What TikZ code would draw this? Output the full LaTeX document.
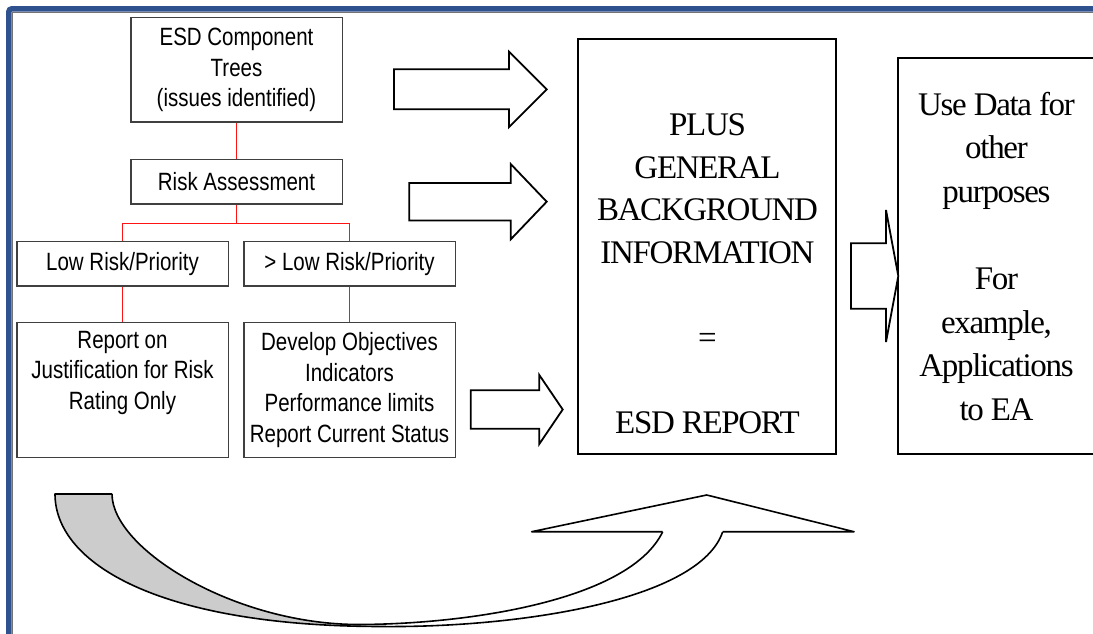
\documentclass[tikz,border=0pt]{standalone}
\usepackage{fontspec}
\setmainfont{Liberation Serif}
\newfontfamily\arialf[FakeStretch=0.82]{Liberation Sans}
\newfontfamily\timesn[LetterSpace=-4]{Liberation Serif}
\definecolor{frameblue}{RGB}{47,82,143}
\definecolor{linkred}{RGB}{255,20,20}
\definecolor{bandgray}{RGB}{204,204,204}

\begin{document}
\begin{tikzpicture}[x=1pt,y=-1pt,
  box/.style={draw=black!75, line width=1.3pt, fill=white, inner sep=0pt,
              font=\arialf\fontsize{25}{30.5}\selectfont, align=center},
  bigbox/.style={draw=black, line width=1.8pt, inner sep=0pt},
  serif/.style={font=\timesn\fontsize{33}{#1}\selectfont, align=center, inner sep=0pt},
  serif/.default=42.5,
  link/.style={draw=linkred, line width=1.1pt},
  blockarrow/.style={draw=black, line width=1.8pt, fill=white, line join=miter},
  bent/.style={draw=black, line width=1.6pt, line join=round},
]
\useasboundingbox (0,0) rectangle (1093,634);
\clip (0,0) rectangle (1093,634);

% outer frame
\draw[frameblue, line width=5.5pt, rounded corners=3pt] (8.8,650) -- (8.8,8.8) -- (1110,8.8);
\draw[black!55, line width=1.2pt] (12.4,650) -- (12.4,12.4) -- (1110,12.4);

% left-hand tree of boxes
\node[box, minimum width=211.3, minimum height=104.3] (trees) at (236.5,69.9)
  {ESD Component\\Trees\\(issues identified)};
\node[box, minimum width=211.3, minimum height=44.7] (risk) at (236.5,181.7)
  {Risk Assessment};
\node[box, minimum width=211.3, minimum height=44.3] (low) at (122.5,263.8)
  {Low Risk/Priority};
\node[box, minimum width=211.3, minimum height=44.3] (high) at (349.5,263.8)
  {> Low Risk/Priority};
\node[box, minimum width=211.3, minimum height=135] (just) at (122.5,390.2)
  {Report on\\Justification for Risk\\Rating Only\\\strut};
\node[box, minimum width=211.3, minimum height=135] (dev) at (349.5,390.2)
  {Develop Objectives\\Indicators\\Performance limits\\Report Current Status};

\draw[link] (trees.south) -- (risk.north);
\draw[link] (risk.south) -- ++(0,18.45) coordinate (fork);
\draw[link] (low.north) |- (fork) -| (high.north);
\draw[link] (low.south) -- (just.north);
\draw[link] (high.south) -- (dev.north);

% report box and its text
\node[bigbox, minimum width=257.7, minimum height=414.7] (report) at (707.2,246.7) {};
\node[serif] (reporttext) at (707.5,273.8)
  {PLUS\\GENERAL\\BACKGROUND\\INFORMATION\\\strut\\=\\\strut\\ESD REPORT};

% further use box
\node[bigbox, minimum width=197.6, minimum height=395.7, serif=43.6] (use) at (996.5,256.2)
  {Use Data for\\other\\purposes\\\strut\\For\\example,\\Applications\\to EA};

% hollow block arrows into the report
\draw[blockarrow] (394,69.2) -- (509,69.2) -- (509,51.7) -- (546.7,89.4)
  -- (509,127.1) -- (509,109.2) -- (394,109.2) -- cycle;
\draw[blockarrow] (409.3,182.9) -- (510.7,182.9) -- (510.7,164) -- (546.7,201.7)
  -- (510.7,239.4) -- (510.7,220.5) -- (409.3,220.5) -- cycle;
\draw[blockarrow] (470.7,390.3) -- (539.3,390.3) -- (539.3,375) -- (562.7,409.5)
  -- (539.3,444) -- (539.3,428.7) -- (470.7,428.7) -- cycle;
% arrow from the report to the further use box
\draw[blockarrow] (851,243.3) -- (886,243.3) -- (886,210) -- (898.3,276)
  -- (886,342) -- (886,308.7) -- (851,308.7) -- cycle;

% curved return arrow along the bottom: shaded underside on the left
\fill[bandgray] (55,494) -- (112,494)
  .. controls (112,549) and (235,625) .. (360,624.5) -- (380,626.5)
  .. controls (160,626) and (55,564) .. (55,494) -- cycle;
% outer edge of the band
\draw[bent] (112,494) -- (55,494)
  .. controls (55,564) and (160,626) .. (380,626.5)
  .. controls (520,628) and (700,600) .. (722.7,531.7);
% inner edge of the band
\draw[bent] (112,494)
  .. controls (112,549) and (235,625) .. (360,624.5)
  .. controls (470,624) and (630,600) .. (662.7,531.7);
% arrow head
\filldraw[bent, fill=white] (662.7,531.7) -- (531.7,531.7) -- (706.7,495)
  -- (854,531.7) -- (722.7,531.7);
\end{tikzpicture}
\end{document}
